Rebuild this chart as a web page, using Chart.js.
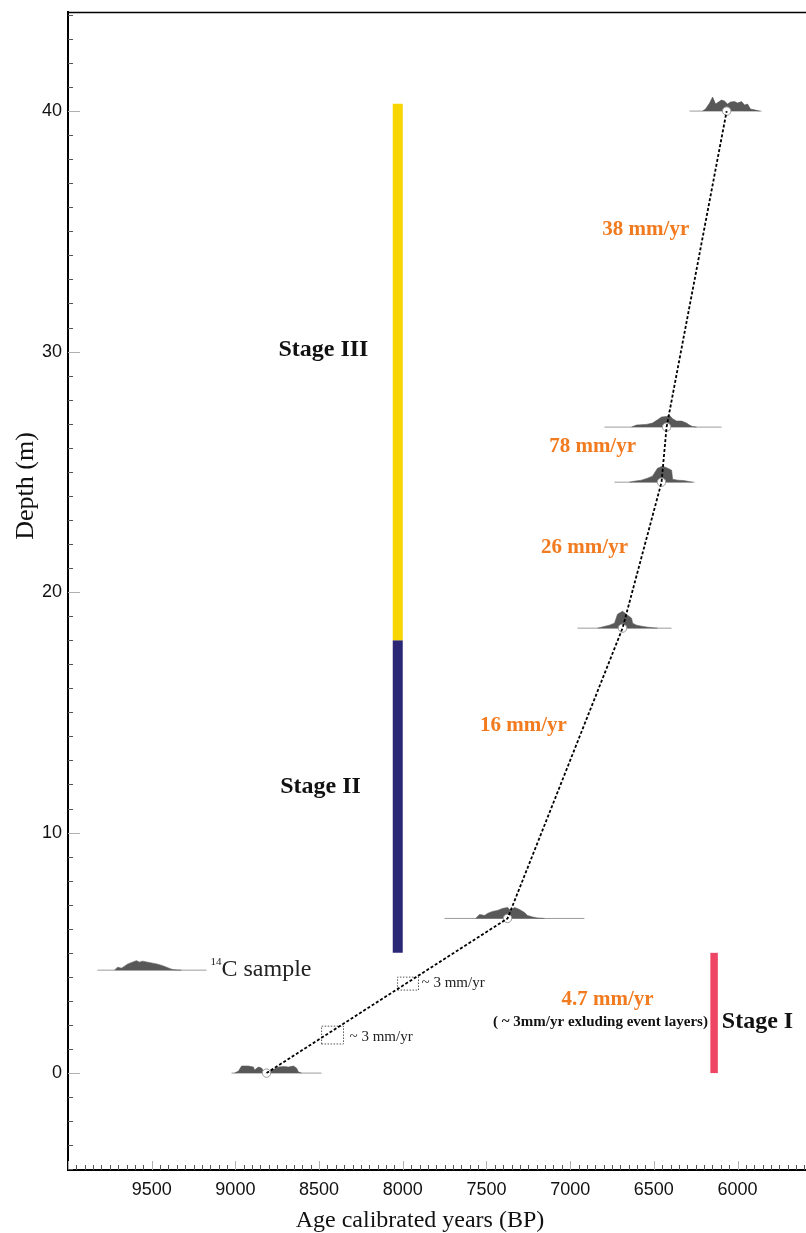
<!DOCTYPE html>
<html><head><meta charset="utf-8">
<script src="https://cdn.jsdelivr.net/npm/chart.js@4.4.0/dist/chart.umd.min.js"></script>
<style>html,body{margin:0;padding:0;background:#fff}canvas{display:block}</style>
</head><body>
<canvas id="c" width="806" height="1233"></canvas>
<script>
// ---------- DATA ----------
// Age-depth model points (age cal BP, depth m)
const modelAges   = [8814, 7374, 6687, 6454, 6424, 6065];
const modelDepths = [0, 6.43, 18.5, 24.57, 26.86, 40.0];

// Calibrated 14C probability distributions (relative density)
const s0Depth = 0,     s0Range = [9023, 8485];
const s0Ages = [9005, 8981, 8963, 8922, 8892, 8886, 8862, 8844, 8826, 8802, 8784, 8766, 8742, 8712, 8683, 8653, 8635, 8623, 8605];
const s0Prob = [0, 2, 7, 7, 6, 3, 6, 5, 1, 1.5, 3, 4, 6, 6.5, 6, 7, 5, 1, 0];

const s1Depth = 6.43,  s1Range = [7751, 6915];
const s1Ages = [7565, 7541, 7511, 7494, 7464, 7434, 7404, 7374, 7356, 7332, 7303, 7273, 7255, 7225, 7195, 7153];
const s1Prob = [0, 4, 3, 5, 7, 8, 10, 11, 8, 11, 9, 6, 3, 1.5, 0.5, 0];

const s2Depth = 18.5,  s2Range = [6956, 6394];
const s2Ages = [6836, 6813, 6765, 6735, 6717, 6687, 6657, 6633, 6627, 6604, 6574, 6538, 6508, 6478];
const s2Prob = [0, 1, 3, 5, 14, 17, 13, 10, 5, 3, 2, 1, 0.5, 0];

const s3Depth = 24.57, s3Range = [6735, 6257];
const s3Ages = [6646, 6616, 6574, 6538, 6508, 6478, 6448, 6418, 6394, 6388, 6358, 6316, 6287, 6269];
const s3Prob = [0, 1, 2, 4, 6, 14, 16, 14, 12, 3, 2, 1.5, 0.5, 0];

const s4Depth = 26.86, s4Range = [6795, 6096];
const s4Ages = [6633, 6604, 6544, 6508, 6478, 6454, 6424, 6406, 6388, 6364, 6334, 6305, 6287, 6269, 6245];
const s4Prob = [0, 2, 2.7, 4, 7.3, 10, 10.7, 11.7, 8.3, 6, 6, 4, 2, 0.5, 0];

const s5Depth = 40.0,  s5Range = [6287, 5857];
const s5Ages = [6209, 6191, 6167, 6149, 6131, 6114, 6096, 6078, 6060, 6042, 6018, 6000, 5976, 5958, 5940, 5923, 5893, 5869];
const s5Prob = [0, 2, 8, 14, 7, 9, 11, 10, 7, 9, 9.5, 8, 9.5, 6, 7, 2, 1, 0];

// legend example distribution ("14C sample")
const legDepth = 4.28, legRange = [9824, 9173];
const legAges = [9722, 9704, 9680, 9662, 9645, 9615, 9591, 9573, 9555, 9525, 9495, 9465, 9435, 9412, 9382, 9364, 9322];
const legProb = [0, 3, 2, 4, 6, 8, 9.5, 8, 9, 8, 7, 6, 4.5, 3, 1, 0.3, 0];

// Stage intervals (depth m) and their age column
const stageIII = [18, 40.3], stageIIIAge = 8030;
const stageII  = [5, 18],    stageIIAge  = 8030;
const stageI   = [0, 5],     stageIAge   = 6140;

// dotted boxes around ~3 mm/yr segments: [ageA, ageB, depthA, depthB]
const box1 = [8485, 8354, 1.21, 1.95];
const box2 = [8031, 7906, 3.45, 3.99];

// Axis ticks
const xTickLabels = [9500, 9000, 8500, 8000, 7500, 7000, 6500, 6000];
const yTickLabels = [0, 10, 20, 30, 40];
const xMin = 5591, xMax = 10000, yMin = -4.03, yMax = 44.12;

// ---------- BUILD ----------
const DENS = 1 / 24.05; // density unit -> metres on chart
const distColor = '#585858';
function distDS(ages, prob, depth) {
  return { data: ages.map((a, i) => ({x: a, y: depth + prob[i] * DENS})), showLine: true,
    borderColor: distColor, backgroundColor: distColor, borderWidth: 0.6, pointRadius: 0,
    fill: {value: depth}, order: 5 };
}
function baseDS(range, depth) {
  return { data: [{x: range[0], y: depth}, {x: range[1], y: depth}], showLine: true,
    borderColor: '#9c9c9c', borderWidth: 1, pointRadius: 0, fill: false, order: 6 };
}
function barDS(rng, age, color, w) {
  return { data: [{x: age, y: rng[0]}, {x: age, y: rng[1]}], showLine: true,
    borderColor: color, borderWidth: w, borderCapStyle: 'butt', pointRadius: 0, fill: false, order: 7 };
}
function boxDS(b) {
  return { data: [{x:b[0],y:b[2]},{x:b[1],y:b[2]},{x:b[1],y:b[3]},{x:b[0],y:b[3]},{x:b[0],y:b[2]}], showLine: true,
    borderColor: '#555', borderWidth: 1, borderDash: [1.5, 1.5], pointRadius: 0, fill: false, order: 2 };
}
const modelPts = modelAges.map((a, i) => ({x: a, y: modelDepths[i]}));

const datasets = [
  { data: modelPts, showLine: true, borderColor: '#000', borderWidth: 1.8, borderDash: [3, 2], pointRadius: 0, fill: false, order: 0 },
  { data: modelPts, showLine: false, pointRadius: 4.2, pointBackgroundColor: '#fff', pointBorderColor: '#9a9a9a', pointBorderWidth: 1, order: 1 },
  boxDS(box1), boxDS(box2),
  distDS(s0Ages, s0Prob, s0Depth), distDS(s1Ages, s1Prob, s1Depth), distDS(s2Ages, s2Prob, s2Depth),
  distDS(s3Ages, s3Prob, s3Depth), distDS(s4Ages, s4Prob, s4Depth), distDS(s5Ages, s5Prob, s5Depth),
  distDS(legAges, legProb, legDepth),
  baseDS(s0Range, s0Depth), baseDS(s1Range, s1Depth), baseDS(s2Range, s2Depth),
  baseDS(s3Range, s3Depth), baseDS(s4Range, s4Depth), baseDS(s5Range, s5Depth), baseDS(legRange, legDepth),
  barDS(stageIII, stageIIIAge, '#F6D500', 10),
  barDS(stageII, stageIIAge, '#2B2777', 10),
  barDS(stageI, stageIAge, '#EE4565', 7.5)
];

const ORANGE = '#F27A1F';
const SERIF = "'Liberation Serif', 'Times New Roman', serif";
const labels = [
  {t: '38 mm/yr', x: 6548, y: 35.09, f: 'bold 21px ' + SERIF, c: ORANGE},
  {t: '78 mm/yr', x: 6866, y: 26.03, f: 'bold 21px ' + SERIF, c: ORANGE},
  {t: '26 mm/yr', x: 6914, y: 21.87, f: 'bold 21px ' + SERIF, c: ORANGE},
  {t: '16 mm/yr', x: 7279, y: 14.43, f: 'bold 21px ' + SERIF, c: ORANGE},
  {t: '4.7 mm/yr', x: 6777, y: 3.04, f: 'bold 21px ' + SERIF, c: ORANGE},
  {t: '( ~ 3mm/yr exluding event layers)', x: 6819, y: 2.12, f: 'bold 15px ' + SERIF, c: '#111'},
  {t: 'Stage I', x: 5881, y: 2.12, f: 'bold 24px ' + SERIF, c: '#111'},
  {t: 'Stage II', x: 8491, y: 11.89, f: 'bold 24px ' + SERIF, c: '#111'},
  {t: 'Stage III', x: 8474, y: 30.06, f: 'bold 24px ' + SERIF, c: '#111'},
  {t: '~ 3 mm/yr', x: 8318, y: 1.5, f: '15px ' + SERIF, c: '#222', a: 'left'},
  {t: '~ 3 mm/yr', x: 7888, y: 3.74, f: '15px ' + SERIF, c: '#222', a: 'left'},
  {t: 'C sample', x: 9083, y: 4.28, f: '24px ' + SERIF, c: '#222', a: 'left'},
  {t: '14', x: 9083, y: 4.28, f: '11px ' + SERIF, c: '#222', a: 'right', dy: -8}
];

const deco = {
  id: 'deco',
  beforeDatasetsDraw(chart) {
    const {ctx, chartArea: ca, scales: {x, y}} = chart;
    ctx.save();
    // inward ticks on x axis
    for (let v = 5600; v <= 10000; v += 50) {
      const px = Math.round(x.getPixelForValue(v)) + 0.5;
      const major = v % 500 === 0;
      ctx.strokeStyle = major ? '#b0b0b0' : '#555';
      ctx.lineWidth = 1;
      ctx.beginPath(); ctx.moveTo(px, ca.bottom); ctx.lineTo(px, ca.bottom - (major ? 9 : 5)); ctx.stroke();
    }
    for (let v = -4; v <= 44; v += 1) {
      const py = Math.round(y.getPixelForValue(v)) + 0.5;
      const major = v % 10 === 0;
      ctx.strokeStyle = major ? '#b0b0b0' : '#555';
      ctx.beginPath(); ctx.moveTo(ca.left, py); ctx.lineTo(ca.left + (major ? 12 : 5), py); ctx.stroke();
    }
    // top frame line
    ctx.strokeStyle = '#000'; ctx.lineWidth = 1.5;
    ctx.beginPath(); ctx.moveTo(ca.left, ca.top + 0.5); ctx.lineTo(ca.right, ca.top + 0.5); ctx.stroke();
    ctx.restore();
  },
  afterDraw(chart) {
    const {ctx, scales: {x, y}} = chart;
    ctx.save();
    ctx.textBaseline = 'middle';
    for (const l of labels) {
      ctx.font = l.f; ctx.fillStyle = l.c; ctx.textAlign = l.a || 'center';
      ctx.fillText(l.t, x.getPixelForValue(l.x), y.getPixelForValue(l.y) + (l.dy || 0));
    }
    // axis titles
    ctx.fillStyle = '#111';
    ctx.font = '24px ' + SERIF; ctx.textAlign = 'center';
    ctx.fillText('Age calibrated years (BP)', 420, 1221);
    ctx.font = '26px ' + SERIF;
    ctx.translate(26, 486); ctx.rotate(-Math.PI / 2);
    ctx.fillText('Depth (m)', 0, 0);
    ctx.restore();
  }
};

const TICKFONT = {family: "'Liberation Sans', Arial, sans-serif", size: 18};
new Chart(document.getElementById('c'), {
  type: 'scatter',
  data: { datasets },
  plugins: [deco],
  options: {
    responsive: false, devicePixelRatio: 1, animation: false,
    layout: { autoPadding: false, padding: {top: 12, left: 0, right: 0, bottom: 0} },
    plugins: { legend: {display: false}, tooltip: {enabled: false} },
    scales: {
      x: { type: 'linear', reverse: true, min: xMin, max: xMax,
        afterFit(s) { s.height = 63; s.paddingLeft = 0; s.paddingRight = 0; },
        afterBuildTicks(s) { s.ticks = xTickLabels.map(v => ({value: v})); },
        ticks: { autoSkip: false, maxRotation: 0, padding: 9, color: '#111', font: TICKFONT,
          callback: v => String(v) },
        grid: { display: false, drawTicks: false },
        border: { display: true, color: '#000', width: 2 } },
      y: { type: 'linear', min: yMin, max: yMax,
        afterFit(s) { s.width = 68; s.paddingTop = 0; s.paddingBottom = 0; },
        afterBuildTicks(s) { s.ticks = yTickLabels.map(v => ({value: v})); },
        ticks: { autoSkip: false, padding: 6, color: '#111', font: TICKFONT,
          callback: v => String(v) },
        grid: { display: false, drawTicks: false },
        border: { display: true, color: '#000', width: 2 } }
    }
  }
});
</script>
</body></html>
